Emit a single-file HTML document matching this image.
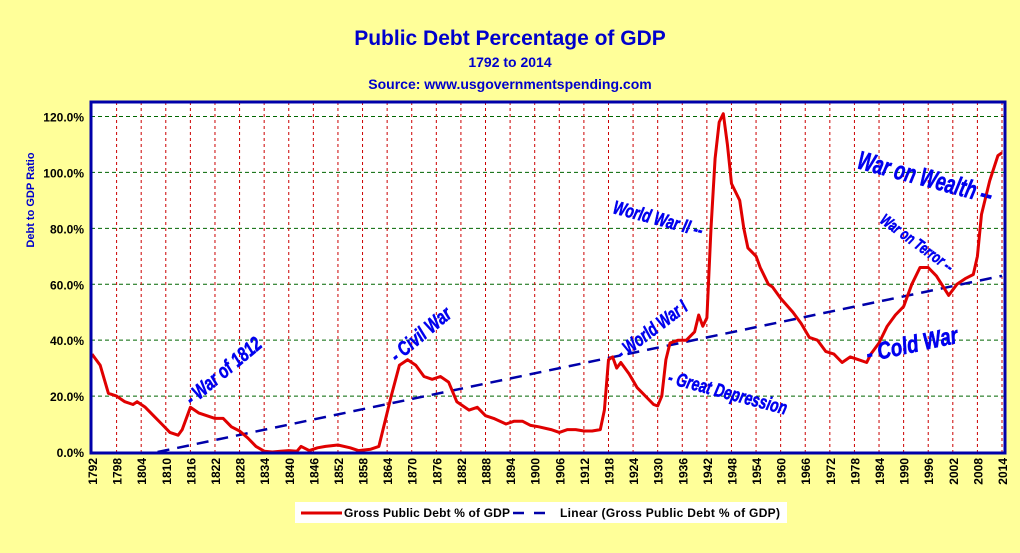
<!DOCTYPE html>
<html><head><meta charset="utf-8"><style>
body{margin:0;background:#FFFF99;}
svg{display:block;font-family:"Liberation Sans",Arial,sans-serif;}
</style></head><body>
<svg id="chart" width="1020" height="553" viewBox="0 0 1020 553">
<rect x="0" y="0" width="1020" height="553" fill="#FFFF99"/>
<text x="510" y="45" text-anchor="middle" font-size="21" font-weight="bold" fill="#0000CC">Public Debt Percentage of GDP</text>
<text x="510" y="67" text-anchor="middle" font-size="14" font-weight="bold" fill="#0000CC">1792 to 2014</text>
<text x="510" y="89" text-anchor="middle" font-size="14" font-weight="bold" fill="#0000CC">Source: www.usgovernmentspending.com</text>
<text transform="translate(34,200) rotate(-90)" text-anchor="middle" font-size="11" font-weight="bold" fill="#0000CC">Debt to GDP Ratio</text>
<rect x="91" y="102" width="914" height="351" fill="#FFFFFF"/>
<g id="grid"></g>
<g id="series"></g>
<rect x="91" y="102" width="914" height="351" fill="none" stroke="#0000AA" stroke-width="3"/>
<g id="axes"></g>
<g fill="#0000EE" font-weight="bold" font-style="italic" stroke="#0000EE" stroke-width="0.6">
<text transform="translate(192,406) rotate(-40) scale(0.75,1)" font-size="20">- War of 1812</text>
<text transform="translate(397,363) rotate(-40) scale(0.75,1)" font-size="20">- Civil War</text>
<text transform="translate(622,360) rotate(-37) scale(0.72,1)" font-size="19">- World War I</text>
<text transform="translate(612,213) rotate(15) scale(0.72,1)" font-size="19">World War II --</text>
<text transform="translate(667,383) rotate(15) scale(0.72,1)" font-size="19">- Great Depression</text>
<text transform="translate(868,362) rotate(-12) scale(0.78,1)" font-size="24">- Cold War</text>
<text transform="translate(856,168) rotate(15) scale(0.68,1)" font-size="26">War on Wealth --</text>
<text transform="translate(879,222) rotate(36) scale(0.72,1)" font-size="16">War on Terror --</text>
</g>
<rect x="295" y="502" width="492" height="21" fill="#FFFFFF"/>
<line x1="301" y1="513" x2="342" y2="513" stroke="#E00000" stroke-width="3"/>
<text x="344" y="517" font-size="12" font-weight="bold" fill="#000" textLength="166">Gross Public Debt % of GDP</text>
<line x1="513" y1="513" x2="546" y2="513" stroke="#0000AA" stroke-width="2.5" stroke-dasharray="11,10"/>
<text x="560" y="517" font-size="12" font-weight="bold" fill="#000" textLength="220">Linear (Gross Public Debt % of GDP)</text>
</svg>
<script>
const years=[1792,1794,1796,1798,1800,1802,1803,1805,1807,1809,1811,1813,1814,1816,1818,1820,1822,1824,1826,1828,1830,1832,1834,1836,1838,1840,1842,1843,1845,1847,1849,1852,1855,1857,1860,1862,1863,1865,1867,1869,1871,1873,1875,1877,1879,1881,1884,1886,1888,1890,1893,1895,1897,1899,1901,1904,1906,1908,1910,1912,1914,1916,1917,1918,1919,1920,1921,1923,1925,1927,1929,1930,1931,1932,1933,1935,1937,1939,1940,1941,1942,1943,1944,1945,1946,1947,1948,1949,1950,1951,1952,1954,1955,1957,1958,1960,1963,1965,1967,1969,1971,1973,1975,1977,1979,1981,1982,1984,1986,1988,1990,1992,1994,1996,1998,2001,2003,2005,2007,2008,2009,2011,2013,2014];
const debt=[35,31,21,20,18,17,18,16,13,10,7,6,8,16,14,13,12,12,9,7.5,5,2,0.3,0,0.3,0.5,0.3,2,0.5,1.5,2,2.5,1.5,0.5,1,2,8,20,31,33,31,27,26,27,25,18,15,16,13,12,10,11,11,9.5,9,8,7,8,8,7.5,7.5,8,15,33,34,30,32,28,23,20,17,16.5,20,33,39,40,40,43,49,45,48,80,105,118,121,110,96,93,90,80,73,70,66,60,59,55,50,46,41,40,36,35,32,34,33,32,35,39,45,49,52,60,66,66,63,56,60,62,63.5,70,85,97,106,107];
const trendStartYear=1808, trendStartValue=0, trendEndYear=2014, trendEndValue=63;
const yTicks=[0,20,40,60,80,100,120];
const xTickStart=1792, xTickEnd=2014, xTickStep=6;
const NS="http://www.w3.org/2000/svg";
const X=y=>92+(y-1792)*(1002-92)/(2014-1792);
const Y=v=>452-v*(452-116.5)/120;
function mk(t,a,p){const e=document.createElementNS(NS,t);for(const k in a)e.setAttribute(k,a[k]);p.appendChild(e);return e;}
const grid=document.getElementById('grid'),axes=document.getElementById('axes'),ser=document.getElementById('series');
yTicks.forEach(v=>{
  if(v>0){const l=mk('line',{x1:91,x2:1005,y1:Y(v),y2:Y(v),stroke:'#006600','stroke-width':1,'stroke-dasharray':'4,3'},grid);
  
  }
  const t=mk('text',{x:84,y:Y(v)+5,'text-anchor':'end','font-size':12,'font-weight':'bold',fill:'#000'},axes);
  t.textContent=v.toFixed(1)+'%';
  
  
});
for(let yr=xTickStart;yr<=xTickEnd;yr+=xTickStep){
  const l=mk('line',{x1:X(yr),x2:X(yr),y1:102,y2:453,stroke:'#CC0000','stroke-width':1,'stroke-dasharray':'3,3'},grid);
  
  
  const t=mk('text',{transform:`translate(${X(yr)+5},458) rotate(-90)`,'text-anchor':'end','font-size':12,'font-weight':'bold',fill:'#000'},axes);
  t.textContent=yr;
  
  
}
const tr=mk('line',{x1:X(trendStartYear),y1:Y(trendStartValue),x2:X(trendEndYear),y2:Y(trendEndValue),stroke:'#0000AA','stroke-width':2.5,'stroke-dasharray':'12,8'},ser);


const pts=years.map((y,i)=>X(y).toFixed(1)+','+Y(debt[i]).toFixed(1)).join(' ');
const pl=mk('polyline',{points:pts,fill:'none',stroke:'#E00000','stroke-width':3,'stroke-linejoin':'round'},ser);


</script>
</body></html>
